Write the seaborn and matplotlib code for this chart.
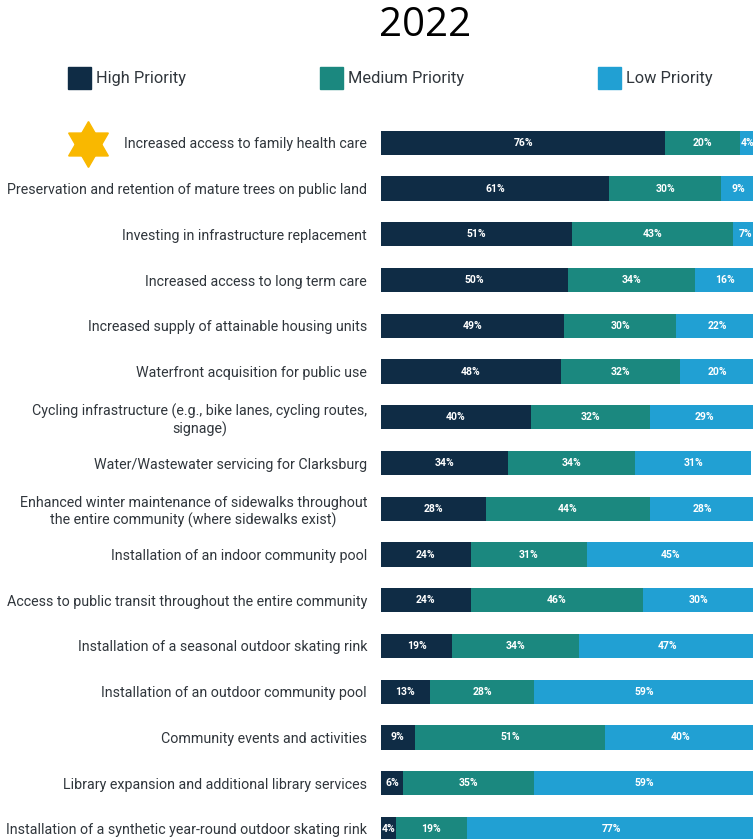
import pandas as pd
import matplotlib.pyplot as plt
import seaborn as sns
from matplotlib.lines import Line2D

# data
items = [
    "Increased access to family health care",
    "Preservation and retention of mature trees on public land",
    "Investing in infrastructure replacement",
    "Increased access to long term care",
    "Increased supply of attainable housing units",
    "Waterfront acquisition for public use",
    "Cycling infrastructure (e.g., bike lanes, cycling routes,\nsignage)",
    "Water/Wastewater servicing for Clarksburg",
    "Enhanced winter maintenance of sidewalks throughout\nthe entire community (where sidewalks exist)",
    "Installation of an indoor community pool",
    "Access to public transit throughout the entire community",
    "Installation of a seasonal outdoor skating rink",
    "Installation of an outdoor community pool",
    "Community events and activities",
    "Library expansion and additional library services",
    "Installation of a synthetic year-round outdoor skating rink",
]
high = [76, 61, 51, 50, 49, 48, 40, 34, 28, 24, 24, 19, 13, 9, 6, 4]
medium = [20, 30, 43, 34, 30, 32, 32, 34, 44, 31, 46, 34, 28, 51, 35, 19]
low = [4, 9, 7, 16, 22, 20, 29, 31, 28, 45, 30, 47, 59, 40, 59, 77]
series = ["High Priority", "Medium Priority", "Low Priority"]
colors = ["#0f2c45", "#1b887f", "#21a0d3"]

df = pd.DataFrame({"item": items, "High": high, "Medium": medium, "Low": low})
df["cum_med"] = df["High"] + df["Medium"]
df["cum_low"] = df["cum_med"] + df["Low"]

W, H = 753, 839
fig = plt.figure(figsize=(W / 100, H / 100), dpi=100)
sns.set_style("white")
plt.rcParams["font.family"] = ["Roboto", "DejaVu Sans"]

ax = fig.add_axes([381 / W, 0, 374 / W, (839 - 120) / H])

# stacked bars: draw cumulative totals back to front
for col, c in zip(["cum_low", "cum_med", "High"], colors[::-1]):
    sns.barplot(data=df, x=col, y="item", color=c, width=0.53,
                saturation=1, linewidth=0, ax=ax, orient="h")

ax.set_xlim(0, 100)
ax.set_ylim(15.22, -0.5)
ax.set_xlabel("")
ax.set_ylabel("")
ax.set_xticks([])
ax.tick_params(axis="y", length=0, pad=10, labelsize=10.3, labelcolor="#30363c")
for t in ax.get_yticklabels():
    t.set_multialignment("center")
sns.despine(ax=ax, left=True, bottom=True, top=True, right=True)

# percent labels
for i, row in df.iterrows():
    starts = [0, row["High"], row["cum_med"]]
    vals = [row["High"], row["Medium"], row["Low"]]
    for s, v in zip(starts, vals):
        ax.text(s + v / 2, i, f"{v}%", ha="center", va="center",
                color="white", fontsize=7.5, fontweight="bold", clip_on=False)

# title
fig.text(425 / W, 1 - 26 / H, "2022", ha="center", va="center",
         fontsize=29, family=["Open Sans", "DejaVu Sans"], color="black")

# legend
leg_x = [68, 320, 598]
for x0, name, c in zip(leg_x, series, colors):
    fig.patches.append(plt.Rectangle((x0 / W, 1 - 89 / H), 23 / W, 22 / H,
                                     transform=fig.transFigure, color=c))
    fig.text((x0 + 28) / W, 1 - 78 / H, name, ha="left", va="center",
             fontsize=11.8, color="#30363c")

# star next to top item
for m in [(3, 0, 0), (3, 0, 180)]:
    fig.add_artist(Line2D([88 / W], [1 - 144 / H], marker=m, markersize=33,
                          color="#f9b800", linestyle="none",
                          transform=fig.transFigure))

fig.savefig("out.png", dpi=100)
